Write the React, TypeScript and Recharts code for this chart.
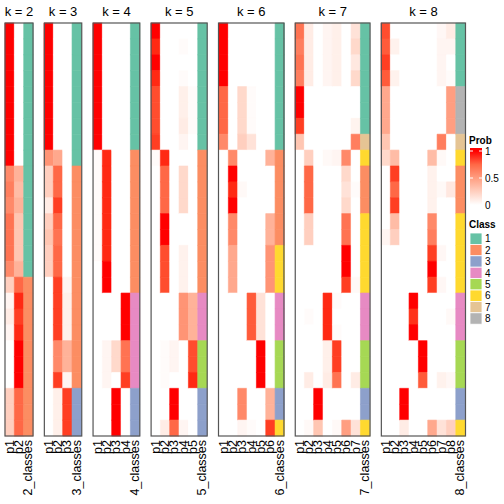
import React from 'react';
import { BarChart, Bar, XAxis, YAxis, Cell } from 'recharts';

// column labels and legend entries
const probLabels = ['p1', 'p2', 'p3', 'p4', 'p5', 'p6', 'p7', 'p8'];
const classNames = ['1', '2', '3', '4', '5', '6', '7', '8'];
const classColors = ['#66C2A5', '#FC8D62', '#8DA0CB', '#E78AC3', '#A6D854', '#FFD92F', '#E5C494', '#B3B3B3'];
const probTicks = [1, 0.5, 0];

// membership probabilities, one row per sample (rows read top to bottom)
const probK2 = [
  [1, 0], [1, 0], [1, 0], [1, 0], [1, 0], [1, 0], [1, 0], [1, 0], [1, 0],
  [0.6, 0.4], [0.65, 0.35], [0.6, 0.4], [0.7, 0.3], [0.7, 0.3], [0.7, 0.3], [0.6, 0.4],
  [0.25, 0.75], [0.05, 0.95], [0.1, 0.9], [0.05, 0.95], [0, 1], [0, 1], [0, 1],
  [0.25, 0.75], [0.25, 0.75], [0.25, 0.75],
];
const classK2 = [1, 1, 1, 1, 1, 1, 1, 1, 1, 1, 1, 1, 1, 1, 1, 1, 2, 2, 2, 2, 2, 2, 2, 2, 2, 2];

const probK3 = [
  [1, 0, 0], [1, 0, 0], [1, 0, 0], [1, 0, 0], [1, 0, 0], [1, 0, 0], [1, 0, 0], [1, 0, 0],
  [0.55, 0.45, 0], [0.25, 0.75, 0], [0.25, 0.75, 0], [0.1, 0.9, 0], [0.25, 0.75, 0],
  [0.3, 0.7, 0], [0.25, 0.75, 0], [0.25, 0.75, 0],
  [0, 0.9, 0.05], [0, 0.9, 0.08], [0, 0.9, 0.08], [0, 0.9, 0.08],
  [0, 0.6, 0.4], [0, 0.6, 0.4], [0, 0.9, 0.05],
  [0, 0.08, 0.9], [0, 0.08, 0.9], [0, 0.08, 0.9],
];
const classK3 = [1, 1, 1, 1, 1, 1, 1, 1, 1, 2, 2, 2, 2, 2, 2, 2, 2, 2, 2, 2, 2, 2, 2, 3, 3, 3];

const probK4 = [
  [1, 0, 0, 0], [1, 0, 0, 0], [1, 0, 0, 0], [1, 0, 0, 0], [1, 0, 0, 0], [1, 0, 0, 0], [1, 0, 0, 0], [1, 0, 0, 0],
  [0.02, 0.95, 0, 0], [0.02, 0.95, 0, 0], [0.02, 0.95, 0, 0], [0.02, 0.95, 0, 0], [0.02, 0.95, 0, 0],
  [0.02, 0.95, 0, 0], [0.02, 0.95, 0, 0], [0, 1, 0, 0], [0, 1, 0, 0],
  [0, 0, 0, 1], [0, 0, 0, 1], [0, 0, 0, 1],
  [0, 0.05, 0.2, 0.7], [0, 0.05, 0.2, 0.7], [0, 0.05, 0, 0.9],
  [0, 0, 1, 0], [0, 0, 1, 0], [0, 0, 1, 0],
];
const classK4 = [1, 1, 1, 1, 1, 1, 1, 1, 2, 2, 2, 2, 2, 2, 2, 2, 2, 4, 4, 4, 4, 4, 4, 3, 3, 3];

const probK5 = [
  [1, 0, 0, 0, 0], [0.95, 0, 0, 0.02, 0], [1, 0, 0, 0, 0], [0.95, 0, 0, 0.02, 0],
  [0.85, 0, 0, 0.08, 0.02], [0.85, 0, 0, 0.08, 0.02], [0.85, 0, 0, 0.1, 0.02], [0.9, 0, 0, 0.05, 0],
  [0.02, 0.95, 0, 0, 0], [0, 0.75, 0, 0.2, 0], [0, 0.75, 0, 0.2, 0], [0, 0.75, 0, 0.2, 0],
  [0, 1, 0, 0, 0], [0, 1, 0, 0, 0], [0, 0.85, 0, 0.07, 0], [0, 0.85, 0, 0.07, 0], [0, 0.85, 0, 0.07, 0],
  [0, 0, 0, 0.55, 0.4], [0, 0, 0, 0.55, 0.4], [0, 0, 0, 0.55, 0.4],
  [0, 0.02, 0.05, 0, 0.85], [0, 0.02, 0.05, 0, 0.85], [0, 0.02, 0, 0, 0.95],
  [0, 0, 1, 0, 0], [0, 0, 1, 0, 0], [0, 0.1, 0.75, 0.05, 0],
];
const classK5 = [1, 1, 1, 1, 1, 1, 1, 1, 2, 2, 2, 2, 2, 2, 2, 2, 2, 4, 4, 4, 5, 5, 5, 3, 3, 3];

const probK6 = [
  [1, 0, 0, 0, 0, 0], [1, 0, 0, 0, 0, 0], [1, 0, 0, 0, 0, 0], [1, 0, 0, 0, 0, 0],
  [0.75, 0, 0.2, 0.02, 0, 0], [0.75, 0, 0.2, 0.02, 0, 0], [0.75, 0, 0.2, 0.02, 0, 0], [0.6, 0, 0.25, 0.15, 0, 0],
  [0, 0.6, 0, 0, 0, 0.4], [0, 1, 0, 0, 0, 0], [0, 0.95, 0.03, 0, 0, 0], [0, 1, 0, 0, 0, 0],
  [0, 0.6, 0, 0, 0, 0.4], [0, 0.6, 0, 0, 0, 0.4],
  [0, 0.45, 0, 0, 0, 0.55], [0, 0.45, 0, 0, 0, 0.55], [0, 0.45, 0, 0, 0, 0.55],
  [0, 0, 0, 0.8, 0.15, 0], [0, 0, 0, 0.8, 0.15, 0], [0, 0, 0, 0.8, 0.15, 0],
  [0, 0, 0, 0, 1, 0], [0, 0, 0, 0, 1, 0], [0, 0, 0, 0, 1, 0],
  [0, 0, 0.6, 0, 0, 0.4], [0, 0, 0.6, 0, 0, 0.4], [0, 0, 0.05, 0.02, 0, 0.9],
];
const classK6 = [1, 1, 1, 1, 1, 1, 1, 1, 2, 2, 2, 2, 2, 2, 6, 6, 6, 4, 4, 4, 5, 5, 5, 3, 3, 6];

const probK7 = [
  [0.7, 0.1, 0, 0.05, 0.08, 0, 0.15], [0.65, 0.1, 0, 0.05, 0.08, 0, 0.2],
  [0.7, 0.1, 0, 0.05, 0.08, 0, 0.12], [0.65, 0.1, 0, 0.05, 0.08, 0, 0.2],
  [1, 0, 0, 0, 0, 0, 0], [1, 0, 0, 0, 0, 0, 0], [0.9, 0, 0, 0, 0, 0, 0.06],
  [0.3, 0, 0, 0, 0, 0, 0.65], [0, 0.25, 0, 0.03, 0.05, 0.6, 0],
  [0, 0.75, 0, 0, 0, 0.2, 0], [0, 0.75, 0, 0, 0, 0.15, 0.02], [0, 0.75, 0, 0, 0, 0.2, 0],
  [0, 0.25, 0, 0, 0, 0.7, 0], [0, 0.25, 0, 0, 0, 0.7, 0],
  [0, 0, 0, 0, 0, 1, 0], [0, 0, 0, 0, 0, 1, 0], [0, 0, 0, 0, 0, 0.9, 0.03],
  [0, 0, 0, 0.95, 0.02, 0, 0], [0, 0.02, 0, 0.95, 0, 0, 0], [0, 0, 0, 0.95, 0.02, 0, 0],
  [0, 0, 0, 0.08, 0.9, 0, 0], [0, 0, 0, 0.08, 0.9, 0, 0], [0, 0.1, 0, 0.1, 0.7, 0, 0.1],
  [0, 0, 1, 0, 0, 0, 0], [0, 0, 1, 0, 0, 0, 0], [0, 0.03, 0.3, 0, 0.03, 0.5, 0.15],
];
const classK7 = [1, 1, 1, 1, 1, 1, 1, 7, 6, 2, 2, 2, 6, 6, 6, 6, 6, 4, 4, 4, 5, 5, 5, 3, 3, 6];

const probK8 = [
  [0.85, 0, 0, 0, 0, 0, 0.04, 0.1], [0.8, 0.07, 0, 0, 0, 0, 0.05, 0.05],
  [0.9, 0, 0, 0, 0, 0, 0.05, 0], [0.8, 0.07, 0, 0, 0, 0, 0.05, 0.02],
  [0.45, 0, 0, 0, 0, 0, 0, 0.5], [0.45, 0, 0, 0, 0, 0, 0, 0.5], [0.45, 0, 0, 0, 0, 0, 0, 0.5],
  [0.3, 0, 0, 0, 0, 0, 0.65, 0], [0.2, 0.35, 0, 0, 0, 0.35, 0.03, 0],
  [0, 0.9, 0, 0, 0, 0.07, 0, 0], [0, 0.75, 0, 0, 0, 0.07, 0.03, 0.12], [0, 0.9, 0, 0, 0, 0.07, 0, 0],
  [0, 0.35, 0, 0, 0, 0.6, 0, 0], [0.05, 0.25, 0, 0, 0, 0.65, 0, 0],
  [0, 0, 0, 0, 0, 0.9, 0.04, 0], [0, 0, 0, 0, 0, 1, 0, 0], [0, 0, 0, 0, 0, 0.9, 0.04, 0],
  [0, 0, 0, 1, 0, 0, 0, 0], [0, 0, 0, 0.93, 0, 0, 0, 0.03], [0, 0, 0, 1, 0, 0, 0, 0],
  [0, 0, 0, 0, 1, 0, 0, 0], [0, 0, 0, 0, 1, 0, 0, 0], [0, 0, 0, 0, 0.8, 0, 0.07, 0.04],
  [0, 0, 1, 0, 0, 0, 0, 0], [0, 0, 1, 0, 0, 0, 0, 0], [0, 0, 0.1, 0, 0, 0.45, 0.15, 0.25],
];
const classK8 = [1, 1, 1, 1, 8, 8, 8, 7, 6, 2, 2, 2, 6, 6, 6, 6, 6, 4, 4, 4, 5, 5, 5, 3, 3, 6];

const panels = [
  { k: 2, probs: probK2, classes: classK2 },
  { k: 3, probs: probK3, classes: classK3 },
  { k: 4, probs: probK4, classes: classK4 },
  { k: 5, probs: probK5, classes: classK5 },
  { k: 6, probs: probK6, classes: classK6 },
  { k: 7, probs: probK7, classes: classK7 },
  { k: 8, probs: probK8, classes: classK8 },
];

const FONT = '"Liberation Sans", Arial, sans-serif';
const COL_W = 9.35;
const GAP = 11.3;
const PAD = 5;
const TOP = 23;
const AXIS_H = 68;
const H = 504;

// white -> red, interpolated in Lab like colorRamp2
const toLin = (c: number) => {
  c /= 255;
  return c <= 0.04045 ? c / 12.92 : Math.pow((c + 0.055) / 1.055, 2.4);
};
const fromLin = (c: number) => {
  const v = c <= 0.0031308 ? 12.92 * c : 1.055 * Math.pow(c, 1 / 2.4) - 0.055;
  return Math.round(Math.min(1, Math.max(0, v)) * 255);
};
function rgb2lab(r: number, g: number, b: number) {
  const R = toLin(r), G = toLin(g), B = toLin(b);
  const X = (0.4124 * R + 0.3576 * G + 0.1805 * B) / 0.95047;
  const Y = 0.2126 * R + 0.7152 * G + 0.0722 * B;
  const Z = (0.0193 * R + 0.1192 * G + 0.9505 * B) / 1.08883;
  const f = (t: number) => (t > 0.008856 ? Math.cbrt(t) : 7.787 * t + 16 / 116);
  return [116 * f(Y) - 16, 500 * (f(X) - f(Y)), 200 * (f(Y) - f(Z))];
}
function lab2rgb(L: number, a: number, b: number) {
  const fy = (L + 16) / 116, fx = fy + a / 500, fz = fy - b / 200;
  const inv = (t: number) => (t * t * t > 0.008856 ? t * t * t : (t - 16 / 116) / 7.787);
  const X = inv(fx) * 0.95047, Y = inv(fy), Z = inv(fz) * 1.08883;
  const R = 3.2406 * X - 1.5372 * Y - 0.4986 * Z;
  const G = -0.9689 * X + 1.8758 * Y + 0.0415 * Z;
  const B = 0.0557 * X - 0.204 * Y + 1.057 * Z;
  return `rgb(${fromLin(R)},${fromLin(G)},${fromLin(B)})`;
}
const LAB_WHITE = rgb2lab(255, 255, 255);
const LAB_RED = rgb2lab(255, 0, 0);
function probColor(p: number) {
  return lab2rgb(
    LAB_WHITE[0] + (LAB_RED[0] - LAB_WHITE[0]) * p,
    LAB_WHITE[1] + (LAB_RED[1] - LAB_WHITE[1]) * p,
    LAB_WHITE[2] + (LAB_RED[2] - LAB_WHITE[2]) * p,
  );
}

function ColTick(props: any) {
  const { x, y, payload, labels } = props;
  const label = labels[Math.floor(payload.value)];
  return (
    <text
      x={x}
      y={y}
      transform={`rotate(-90, ${x}, ${y})`}
      textAnchor="end"
      dominantBaseline="central"
      fontSize={12.5}
      fontFamily={FONT}
      fill="#000"
    >
      {label}
    </text>
  );
}

function Panel({ k, probs, classes }: { k: number; probs: number[][]; classes: number[] }) {
  const ncol = k + 1;
  const cols = Array.from({ length: k }, (_, j) => j);
  const labels = [...probLabels.slice(0, k), `${k}_classes`];
  const ticks = labels.map((_, i) => i + 0.5);
  const data = probs.map((row, i) => {
    const o: any = { row: `r${i}`, cls: 1 };
    cols.forEach((j) => (o[`c${j}`] = 1));
    return o;
  });
  return (
    <BarChart
      layout="vertical"
      width={ncol * COL_W + PAD * 2}
      height={H}
      data={data}
      margin={{ top: TOP, right: PAD, bottom: 0, left: PAD }}
      barCategoryGap={0}
      barGap={0}
    >
      <YAxis type="category" dataKey="row" hide />
      <XAxis
        type="number"
        domain={[0, ncol]}
        ticks={ticks}
        interval={0}
        height={AXIS_H}
        axisLine={false}
        tickLine={false}
        tickSize={0}
        tickMargin={4}
        tick={<ColTick labels={labels} />}
      />
      {cols.map((j) => (
        <Bar key={j} dataKey={`c${j}`} stackId="s" isAnimationActive={false}>
          {probs.map((row, i) => (
            <Cell key={i} fill={probColor(row[j])} stroke={probColor(row[j])} strokeWidth={0.6} />
          ))}
        </Bar>
      ))}
      <Bar dataKey="cls" stackId="s" isAnimationActive={false}>
        {classes.map((c, i) => (
          <Cell key={i} fill={classColors[c - 1]} stroke={classColors[c - 1]} strokeWidth={0.6} />
        ))}
      </Bar>
    </BarChart>
  );
}

export default function App() {
  let x = 5;
  const placed = panels.map((p) => {
    const w = (p.k + 1) * COL_W;
    const item = { ...p, left: x, w };
    x += w + GAP;
    return item;
  });
  const plotBottom = H - AXIS_H;
  const gradTop = 148;
  const gradBottom = 206;
  const valY = (v: number) => 205 - v * 54;
  return (
    <div style={{ position: 'absolute', left: 0, top: 0, width: 504, height: 504, background: '#fff' }}>
      {placed.map((p) => (
        <div key={p.k} style={{ position: 'absolute', left: p.left - PAD, top: 0 }}>
          <Panel k={p.k} probs={p.probs} classes={p.classes} />
        </div>
      ))}
      <svg width={504} height={504} style={{ position: 'absolute', left: 0, top: 0, pointerEvents: 'none' }}>
        <defs>
          <linearGradient id="probGrad" x1="0" y1="1" x2="0" y2="0">
            {[0, 0.25, 0.5, 0.75, 1].map((v) => (
              <stop key={v} offset={`${(v * 54 + 1) / (gradBottom - gradTop) * 100}%`} stopColor={probColor(v)} />
            ))}
          </linearGradient>
        </defs>
        {placed.map((p) => (
          <g key={p.k}>
            <rect x={p.left} y={TOP} width={p.w} height={plotBottom - TOP} fill="none" stroke="#555" strokeWidth={1.2} />
            <text x={p.left + p.w / 2} y={16} textAnchor="middle" fontSize={13} fontFamily={FONT} fill="#000">
              {`k = ${p.k}`}
            </text>
          </g>
        ))}
        <text x={469} y={144} fontSize={10} fontWeight="bold" fontFamily={FONT} fill="#000">Prob</text>
        <rect x={470} y={gradTop} width={12} height={gradBottom - gradTop} fill="url(#probGrad)" />
        {probTicks.map((v) => (
          <g key={v}>
            <line x1={470} x2={473} y1={valY(v)} y2={valY(v)} stroke="#fff" strokeWidth={1} />
            <line x1={479} x2={482} y1={valY(v)} y2={valY(v)} stroke="#fff" strokeWidth={1} />
            <text x={485} y={valY(v)} dominantBaseline="central" fontSize={10} fontFamily={FONT} fill="#000">
              {v}
            </text>
          </g>
        ))}
        <text x={469} y={227.5} fontSize={10} fontWeight="bold" fontFamily={FONT} fill="#000">Class</text>
        {classNames.map((c, i) => (
          <g key={c}>
            <rect x={470} y={233 + i * 11.4} width={12} height={11.4} fill={classColors[i]} stroke="#fff" strokeWidth={0.8} />
            <text x={485} y={233 + i * 11.4 + 5.9} dominantBaseline="central" fontSize={10} fontFamily={FONT} fill="#000">
              {c}
            </text>
          </g>
        ))}
      </svg>
    </div>
  );
}
